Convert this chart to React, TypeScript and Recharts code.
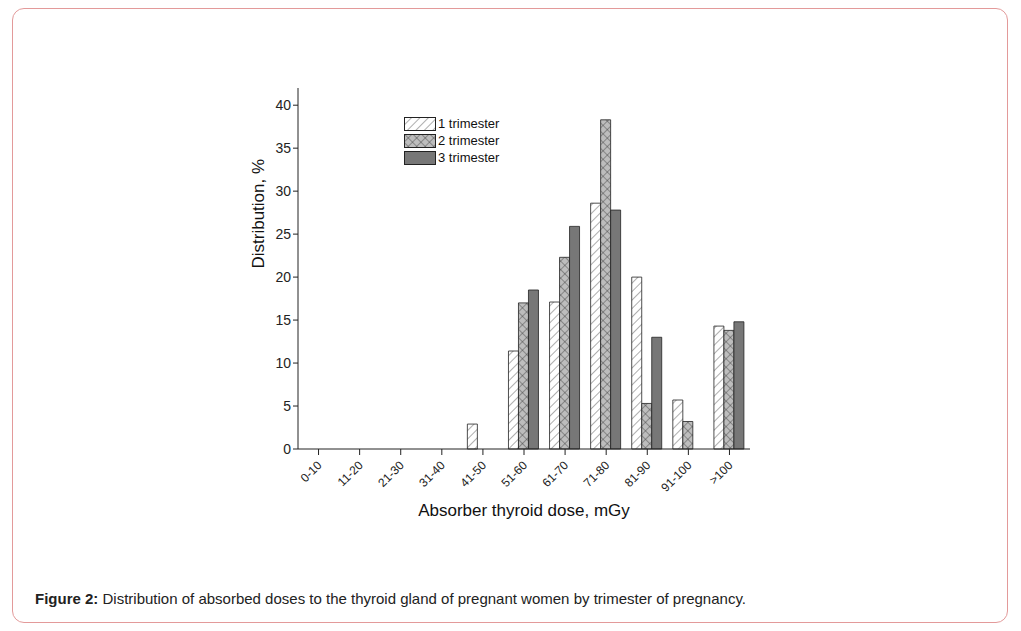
import { Bar, BarChart, XAxis, YAxis } from "recharts";

const categories = ["0-10", "11-20", "21-30", "31-40", "41-50", "51-60", "61-70", "71-80", "81-90", "91-100", ">100"];
const trimester1 = [0, 0, 0, 0, 2.9, 11.4, 17.1, 28.6, 20.0, 5.7, 14.3];
const trimester2 = [0, 0, 0, 0, 0, 17.0, 22.3, 38.3, 5.3, 3.2, 13.8];
const trimester3 = [0, 0, 0, 0, 0, 18.5, 25.9, 27.8, 13.0, 0, 14.8];
const yTicks = [0, 5, 10, 15, 20, 25, 30, 35, 40];
const legendItems = [
  ["url(#hatchL)", "1 trimester"],
  ["url(#crossL)", "2 trimester"],
  ["#777", "3 trimester"],
];

const data = categories.map((c, i) => ({
  cat: c,
  t1: trimester1[i],
  t2: trimester2[i],
  t3: trimester3[i],
}));

const font = "Arial, 'Liberation Sans', sans-serif";

const XTick = (props: any) => {
  const { x, y, payload } = props;
  return (
    <text
      x={x + 4}
      y={y + 9}
      textAnchor="end"
      fontSize={12}
      fill="#222"
      fontFamily={font}
      transform={`rotate(-45 ${x + 4} ${y + 9})`}
    >
      {payload.value}
    </text>
  );
};

const Patterns = ({ suffix }: { suffix: string }) => (
  <defs>
    <pattern id={"hatch" + suffix} width="6" height="6" patternUnits="userSpaceOnUse" patternTransform="rotate(45)">
      <rect width="6" height="6" fill="#fff" />
      <line x1="0" y1="0" x2="0" y2="6" stroke="#333" strokeWidth="0.8" />
    </pattern>
    <pattern id={"cross" + suffix} width="6" height="6" patternUnits="userSpaceOnUse" patternTransform="rotate(45)">
      <rect width="6" height="6" fill="#bdbdbd" />
      <line x1="0" y1="0" x2="0" y2="6" stroke="#333" strokeWidth="0.8" />
      <line x1="0" y1="0" x2="6" y2="0" stroke="#333" strokeWidth="0.8" />
    </pattern>
  </defs>
);

export default function App() {
  return (
    <div style={{ position: "relative", width: 1005, height: 617, fontFamily: font }}>
      <div
        style={{
          position: "absolute",
          left: 4,
          top: 0,
          width: 996,
          height: 615,
          border: "1px solid #e39a9a",
          borderRadius: 12,
          boxSizing: "border-box",
        }}
      />
      <div style={{ position: "absolute", left: 192, top: 70 }}>
        <BarChart
          width={560}
          height={460}
          data={data}
          margin={{ top: 10, right: 10, bottom: 0, left: 0 }}
          barCategoryGap={5}
          barGap={0}
        >
          <Patterns suffix="" />
          <XAxis
            dataKey="cat"
            height={89}
            tick={<XTick />}
            tickLine={{ stroke: "#222" }}
            axisLine={{ stroke: "#222" }}
            interval={0}
            label={{ value: "Absorber thyroid dose, mGy", position: "insideBottom", offset: 22, fontSize: 17, fill: "#111", fontFamily: font }}
          />
          <YAxis
            width={98}
            domain={[0, 42]}
            ticks={yTicks}
            tick={{ fontSize: 14, fill: "#222", fontFamily: font }}
            tickLine={{ stroke: "#222" }}
            axisLine={{ stroke: "#222" }}
            tickSize={5}
            label={{ value: "Distribution, %", angle: -90, position: "insideLeft", offset: 58, fontSize: 17, fill: "#111", fontFamily: font }}
          />
          <Bar dataKey="t1" fill="url(#hatch)" stroke="#222" strokeWidth={0.8} isAnimationActive={false} />
          <Bar dataKey="t2" fill="url(#cross)" stroke="#222" strokeWidth={0.8} isAnimationActive={false} />
          <Bar dataKey="t3" fill="#777" stroke="#222" strokeWidth={0.8} isAnimationActive={false} />
        </BarChart>
      </div>
      <div style={{ position: "absolute", left: 396, top: 107, fontSize: 13, color: "#111", lineHeight: "17px" }}>
        <svg width={0} height={0} style={{ position: "absolute" }}>
          <Patterns suffix="L" />
        </svg>
        {legendItems.map(([f, t]) => (
          <div key={t} style={{ display: "flex", alignItems: "center" }}>
            <svg width={33} height={15} style={{ marginRight: 1 }}>
              <rect x={0.5} y={1.5} width={31} height={13} fill={f} stroke="#222" />
            </svg>
            {t}
          </div>
        ))}
      </div>
      <div style={{ position: "absolute", left: 27, top: 582, fontSize: 15, color: "#222" }}>
        <b>Figure 2:</b> Distribution of absorbed doses to the thyroid gland of pregnant women by trimester of pregnancy.
      </div>
    </div>
  );
}
